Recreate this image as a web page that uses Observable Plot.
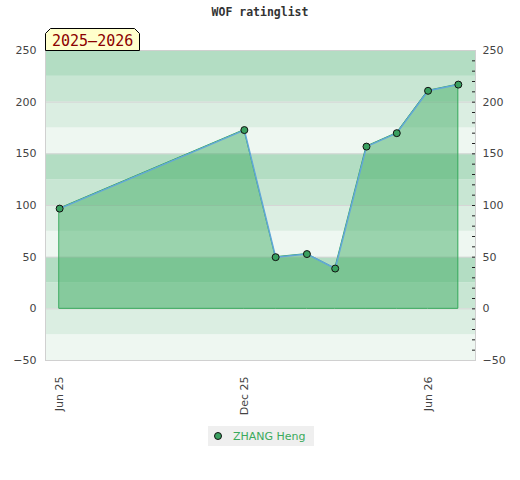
<!DOCTYPE html>
<html>
<head>
<meta charset="utf-8">
<script src="https://cdn.jsdelivr.net/npm/d3@7"></script>
<script src="https://cdn.jsdelivr.net/npm/@observablehq/plot@0.6"></script>
<style>
  html, body { margin: 0; padding: 0; background: #fff; }
  #wrap { position: relative; width: 520px; height: 480px; font-family: "DejaVu Sans", sans-serif; }
  #title { position: absolute; top: 5px; left: 0; width: 520px; text-align: center; font: bold 11.5px "DejaVu Sans Mono", monospace; color: #333; }
  #tag { position: absolute; left: 45px; top: 28px; }
  #chart { position: absolute; left: 0; top: 0; }
  #legend { position: absolute; left: 208px; top: 426px; width: 106px; height: 20px; background: #efefef; }
</style>
</head>
<body>
<div id="wrap">
  <div id="chart"></div>
  <div id="title">WOF ratinglist</div>
  <svg id="tag" width="96" height="23">
    <polygon points="0.5,22.5 0.5,5.5 5.5,0.5 89.5,0.5 94.5,5.5 94.5,22.5" fill="#ffffcc" stroke="#000" stroke-width="1"/>
    <text x="7" y="18" fill="#8b0000" font-family="DejaVu Sans Mono, monospace" font-size="15">2025–2026</text>
  </svg>
  <div id="legend">
    <svg width="106" height="20">
      <circle cx="10" cy="10" r="3.5" fill="#3aa060" stroke="#111" stroke-width="1"/>
      <text x="25" y="14" fill="#3aaa5c" font-family="DejaVu Sans, sans-serif" font-size="11">ZHANG Heng</text>
    </svg>
  </div>
</div>
<script>
// Data
const dates = ["2025-06-01","2025-12-01","2026-01-01","2026-02-01","2026-03-01","2026-04-01","2026-05-01","2026-06-01","2026-07-01"];
const ratings = [97, 173, 50, 53, 39, 157, 170, 211, 217];
const xTicks = ["2025-06-01","2025-12-01","2026-06-01"];
const yLabels = [-50, 0, 50, 100, 150, 200, 250];
const yMinor = [-40,-30,-20,-10,0,10,20,30,40,50,60,70,80,90,100,110,120,130,140,150,160,170,180,190,200,210,220,230,240];
const bandLows = [-50,-25,0,25,50,75,100,125,150,175,200,225];
const bandFills = ["#eef7f1","#dbeee2","#c8e6d3","#b3ddc3","#eef7f1","#dbeee2","#c8e6d3","#b3ddc3","#eef7f1","#dbeee2","#c8e6d3","#b3ddc3"];
const xDomain = ["2025-05-18","2026-07-18"];
const yDomain = [-50, 250];

const data = dates.map((d, i) => ({date: new Date(d), value: ratings[i]}));
const bands = bandLows.map((lo, i) => ({y1: lo, y2: lo + 25, fill: bandFills[i]}));

const chart = Plot.plot({
  width: 520,
  height: 420,
  marginTop: 50,
  marginRight: 45,
  marginBottom: 60,
  marginLeft: 45,
  style: {fontFamily: "DejaVu Sans, sans-serif", fontSize: "11px", color: "#444", background: "transparent"},
  x: {type: "utc", domain: xDomain.map(d => new Date(d)), label: null},
  y: {domain: yDomain, label: null},
  marks: [
    Plot.rect(bands, {y1: "y1", y2: "y2", fill: "fill"}),
    Plot.ruleY(yLabels, {stroke: "#d6d6d6", strokeWidth: 1}),
    Plot.areaY(data, {x: "date", y: "value", fill: "rgb(60,170,95)", fillOpacity: 0.47, stroke: "#34a85a", strokeWidth: 1}),
    Plot.line(data, {x: "date", y: "value", stroke: "#62a6d9", strokeWidth: 1.5}),
    Plot.dot(data, {x: "date", y: "value", r: 3.5, fill: "#3aa060", stroke: "#111", strokeWidth: 1}),
    Plot.frame({stroke: "#d0d0d0"}),
    Plot.axisY(yLabels, {anchor: "left", tickSize: 0, tickPadding: 9, label: null, fill: "#444"}),
    Plot.axisY(yLabels, {anchor: "right", tickSize: 0, tickPadding: 7, label: null, fill: "#444"}),
    Plot.axisY(yMinor, {anchor: "right", tickSize: 3, dx: -4, tickFormat: () => "", label: null, stroke: "#222"}),
    Plot.axisX(xTicks.map(d => new Date(d)), {tickFormat: d3.utcFormat("%b %y"), tickRotate: -90, tickSize: 0, tickPadding: 16, label: null, fill: "#444"})
  ]
});
document.getElementById("chart").appendChild(chart);
</script>
</body>
</html>
